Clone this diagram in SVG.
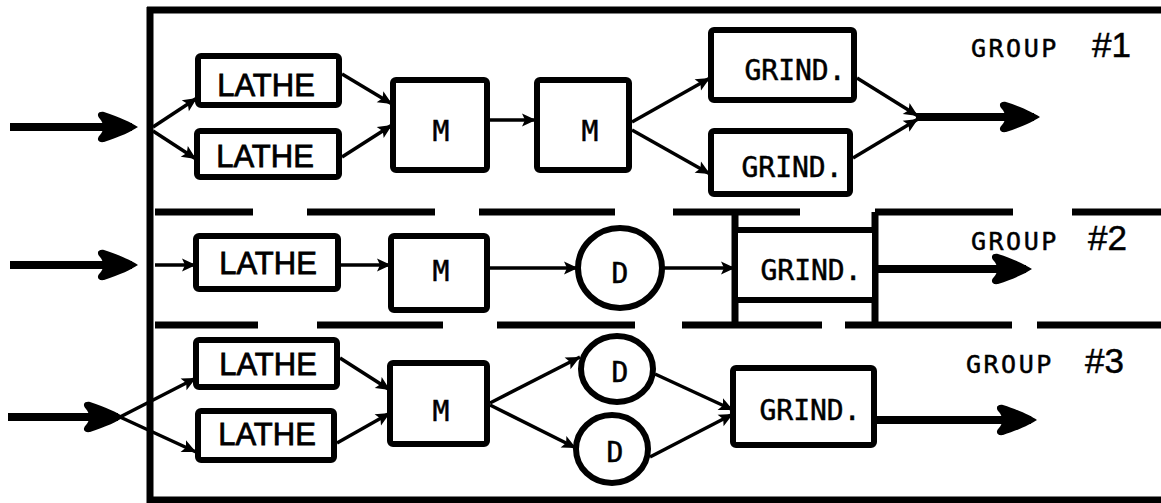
<svg xmlns="http://www.w3.org/2000/svg" width="1161" height="503" viewBox="0 0 1161 503">
  <style>
    .box { fill: #fff; stroke: #000; stroke-width: 6; }
    .frame { fill: none; stroke: #000; stroke-width: 7; stroke-linecap: butt; }
    .wire { fill: none; stroke: #000; stroke-width: 3.5; marker-end: url(#tip); }
    .feed { fill: none; stroke: #000; stroke-width: 8; marker-end: url(#bigTip); }
    .sans { font-family: "Liberation Sans", Arial, sans-serif; font-size: 31px; fill: #000; stroke: #000; stroke-width: 0.8; text-anchor: middle; }
    .mono { font-family: "DejaVu Sans Mono", "Liberation Mono", monospace; font-size: 28px; fill: #000; stroke: #000; stroke-width: 0.5; text-anchor: middle; }
    .grp { font-family: "DejaVu Sans Mono", "Liberation Mono", monospace; font-size: 25px; fill: #000; stroke: #000; stroke-width: 0.5; letter-spacing: 2.5px; }
    .num { font-family: "Liberation Sans", Arial, sans-serif; font-size: 35px; fill: #000; stroke: #000; stroke-width: 0.5; }
  </style>
  <defs>
    <marker id="tip" markerUnits="userSpaceOnUse" markerWidth="16" markerHeight="14" refX="15" refY="7" orient="auto">
      <path d="M15,7 L1,0.5 L4,7 L1,13.5 Z" fill="#000"/>
    </marker>
    <!-- heavy feed arrowhead; the shaft stops 6px short of the point -->
    <marker id="bigTip" markerUnits="userSpaceOnUse" markerWidth="46" markerHeight="34" refX="36" refY="17" orient="auto">
      <path d="M42,17 C36,13 24,7 8,2 C2,1 0,5 4,9 C8,13 8,21 4,25 C0,29 2,33 8,32 C24,27 36,21 42,17 Z" fill="#000"/>
    </marker>
  </defs>

  <!-- cell boundaries: outer frame and broken partitions between the groups -->
  <g id="frame">
    <path class="frame" d="M147,10 H1161"/>
    <path class="frame" d="M150,7 V503" stroke-width="6"/>
    <path class="frame" d="M147,500 H1161" stroke-width="6"/>
    <path class="frame" d="M155,212 H253 M307,212 H435 M479,212 H615 M673,212 H800 M875,212 H1013 M1072,212 H1161"/>
    <path class="frame" d="M155,325 H258 M317,325 H443 M497,325 H635 M682,325 H822 M845,325 H1012 M1037,325 H1161"/>
    <path class="frame" d="M735,212 V325 M875,212 V325" stroke-width="6"/>
  </g>

  <!-- group 1 -->
  <g id="g1-lathe-a"><rect class="box" x="198" y="56" width="141" height="49" rx="3"/><text class="sans" x="266" y="96">LATHE</text></g>
  <g id="g1-lathe-b"><rect class="box" x="197" y="131" width="142" height="46" rx="3"/><text class="sans" x="265" y="167">LATHE</text></g>
  <g id="g1-mill-a"><rect class="box" x="393" y="80" width="94" height="90" rx="3"/><text class="mono" x="441" y="141" font-size="31">M</text></g>
  <g id="g1-mill-b"><rect class="box" x="537" y="80" width="92" height="90" rx="3"/><text class="mono" x="590" y="141" font-size="31">M</text></g>
  <g id="g1-grind-a"><rect class="box" x="711" y="30" width="143" height="70" rx="3"/><text class="mono" x="795" y="80">GRIND.</text></g>
  <g id="g1-grind-b"><rect class="box" x="711" y="131" width="139" height="63" rx="3"/><text class="mono" x="792" y="177">GRIND.</text></g>
  <g id="g1-label"><text class="grp" x="971" y="57">GROUP</text><text class="num" x="1092" y="57">#1</text></g>

  <!-- group 2 -->
  <g id="g2-lathe"><rect class="box" x="196" y="236" width="142" height="53" rx="3"/><text class="sans" x="268" y="274">LATHE</text></g>
  <g id="g2-mill"><rect class="box" x="391" y="236" width="96" height="74" rx="3"/><text class="mono" x="441" y="281" font-size="31">M</text></g>
  <g id="g2-drill"><ellipse class="box" cx="620" cy="268" rx="42" ry="40"/><text class="mono" x="620" y="283" font-size="29">D</text></g>
  <g id="g2-grind"><rect class="box" x="735" y="230" width="140" height="70"/><text class="mono" x="811" y="280">GRIND.</text></g>
  <g id="g2-label"><text class="grp" x="971" y="250">GROUP</text><text class="num" x="1088" y="250">#2</text></g>

  <!-- group 3 -->
  <g id="g3-lathe-a"><rect class="box" x="196" y="340" width="141" height="47" rx="3"/><text class="sans" x="268" y="375">LATHE</text></g>
  <g id="g3-lathe-b"><rect class="box" x="198" y="411" width="136" height="49" rx="3"/><text class="sans" x="267" y="445">LATHE</text></g>
  <g id="g3-mill"><rect class="box" x="390" y="363" width="97" height="81" rx="3"/><text class="mono" x="441" y="421" font-size="31">M</text></g>
  <g id="g3-drill-a"><ellipse class="box" cx="617" cy="369" rx="36" ry="33"/><text class="mono" x="620" y="382" font-size="29">D</text></g>
  <g id="g3-drill-b"><ellipse class="box" cx="612" cy="449" rx="36" ry="34"/><text class="mono" x="615" y="462" font-size="29">D</text></g>
  <g id="g3-grind"><rect class="box" x="733" y="368" width="141" height="77" rx="3"/><text class="mono" x="810" y="420">GRIND.</text></g>
  <g id="g3-label"><text class="grp" x="966" y="373">GROUP</text><text class="num" x="1085" y="373">#3</text></g>

  <!-- material flow -->
  <g id="connectors">
    <path class="feed" d="M10,127 H132"/>
    <path class="wire" d="M153,127 L197,98"/>
    <path class="wire" d="M153,131 L196,159"/>
    <path class="wire" d="M342,74 L392,104"/>
    <path class="wire" d="M342,157 L392,125"/>
    <path class="wire" d="M490,120 H536"/>
    <path class="wire" d="M632,122 L710,78"/>
    <path class="wire" d="M632,130 L710,174"/>
    <path class="wire" d="M857,78 L918,116"/>
    <path class="wire" d="M853,158 L918,119"/>
    <path class="feed" d="M916,117 H1034"/>

    <path class="feed" d="M10,265 H132"/>
    <path class="wire" d="M155,265 H196"/>
    <path class="wire" d="M340,265 H391"/>
    <path class="wire" d="M490,268 H578"/>
    <path class="wire" d="M664,268 H735"/>
    <path class="feed" d="M878,269 H1026"/>

    <path class="feed" d="M8,417 H118"/>
    <path class="wire" d="M120,417 L196,378"/>
    <path class="wire" d="M120,417 L196,452"/>
    <path class="wire" d="M340,358 L390,390"/>
    <path class="wire" d="M337,443 L390,413"/>
    <path class="wire" d="M490,403 L580,357"/>
    <path class="wire" d="M490,405 L576,448"/>
    <path class="wire" d="M655,374 L733,410"/>
    <path class="wire" d="M650,457 L733,414"/>
    <path class="feed" d="M877,420 H1031"/>
  </g>
</svg>
